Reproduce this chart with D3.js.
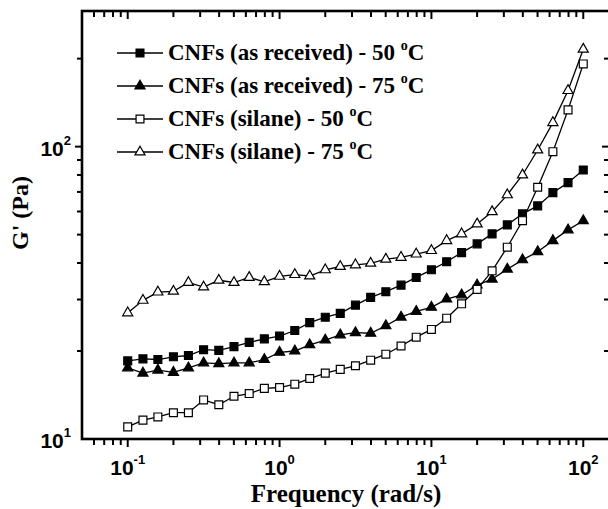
<!DOCTYPE html>
<html>
<head>
<meta charset="utf-8">
<script src="https://cdn.jsdelivr.net/npm/d3@7"></script>
<style>
  body { margin: 0; background: #fff; }
  svg { display: block; }
</style>
</head>
<body>
<div id="chart"></div>
<script>
var w = 608;
var h = 509;

// angular frequency (rad/s)
var freq = [0.1, 0.126, 0.158, 0.2, 0.251, 0.316, 0.398, 0.501, 0.631, 0.794,
  1, 1.26, 1.58, 2, 2.51, 3.16, 3.98, 5.01, 6.31, 7.94,
  10, 12.6, 15.8, 20, 25.1, 31.6, 39.8, 50.1, 63.1, 79.4, 100];

// G' (Pa)
var asRec50 = [18.5, 18.8, 18.7, 19.1, 19.3, 20.2, 20.1, 20.7, 21.4, 22.0, 22.5, 23.5, 25.0, 26.1, 26.9, 28.7,
  30.5, 31.9, 33.6, 35.7, 37.9, 40.4, 43.4, 46.5, 50.3, 54.0, 58.9, 62.7, 69.6, 75.3, 83.2];
var asRec75 = [17.5, 16.8, 17.2, 16.9, 17.5, 18.2, 18.1, 18.2, 18.2, 18.7, 19.8, 20.0, 21.0, 21.8, 22.7, 23.1,
  23.0, 24.4, 26.1, 27.3, 28.2, 30.1, 31.1, 33.6, 35.2, 38.1, 41.0, 43.7, 47.7, 51.9, 55.8];
var silane50 = [11.0, 11.6, 11.9, 12.3, 12.3, 13.6, 13.1, 14.0, 14.3, 14.9, 15.0, 15.4, 16.1, 16.8, 17.3, 17.8,
  18.6, 19.5, 20.8, 22.3, 23.7, 25.9, 29.0, 32.5, 37.6, 45.3, 55.8, 72.6, 96.1, 133.6, 191.8];
var silane75 = [27.0, 29.8, 31.8, 32.0, 34.3, 33.1, 34.9, 34.3, 35.7, 34.5, 36.0, 36.5, 36.1, 37.9, 38.9, 39.4,
  39.9, 41.2, 41.8, 42.9, 44.1, 47.7, 50.3, 54.4, 59.9, 68.4, 80.0, 97.4, 120.8, 155.5, 215.4];

var seriesNames = ['CNFs (as received) - 50 ', 'CNFs (as received) - 75 ', 'CNFs (silane) - 50 ', 'CNFs (silane) - 75 '];
var seriesValues = [asRec50, asRec75, silane50, silane75];
var markerShape = ['square', 'triangle', 'square', 'triangle'];
var markerFilled = [true, true, false, false];

var xTickVals = [0.1, 1, 10, 100];
var xTickExp = ['-1', '0', '1', '2'];
var yTickVals = [10, 100];
var yTickExp = ['1', '2'];

// plot box (note: "top" is reserved on window, so use m-prefixed names)
var mLeft = 82, mRight = 610, mTop = 11, mBottom = 439;

var x = d3.scaleLog().domain([0.05, 150]).range([mLeft, mRight]);
var y = d3.scaleLog().domain([10, 291]).range([mBottom, mTop]);

var svg = d3.select('#chart')
  .append('svg')
  .attr('width', w)
  .attr('height', h);

var sans = '"Liberation Sans", Arial, sans-serif';
var serif = '"Liberation Serif", "Times New Roman", serif';

// minor + major ticks for a log axis
function logTicks(scale) {
  var d = scale.domain();
  var out = [];
  for (var e = -3; e <= 3; e++) {
    for (var m = 1; m <= 9; m++) {
      var v = m * Math.pow(10, e);
      if (v > d[0] * 1.0001 && v < d[1] * 0.9999) out.push({ v: v, major: m === 1 });
    }
  }
  return out;
}

var xt = logTicks(x);
var yt = logTicks(y);

var axes = svg.append('g')
  .attr('stroke', '#000')
  .attr('stroke-width', 2);

// bottom ticks (out) and top ticks (in)
axes.selectAll('.xb').data(xt).enter().append('line')
  .attr('x1', d => x(d.v)).attr('x2', d => x(d.v))
  .attr('y1', mBottom).attr('y2', d => mBottom + (d.major ? 8 : 6));
axes.selectAll('.xt').data(xt).enter().append('line')
  .attr('x1', d => x(d.v)).attr('x2', d => x(d.v))
  .attr('y1', mTop).attr('y2', d => mTop + (d.major ? 8 : 6));

// left ticks (out) and right ticks (in)
axes.selectAll('.yl').data(yt).enter().append('line')
  .attr('y1', d => y(d.v)).attr('y2', d => y(d.v))
  .attr('x1', mLeft).attr('x2', d => mLeft - (d.major ? 7 : 5));
axes.selectAll('.yr').data(yt).enter().append('line')
  .attr('y1', d => y(d.v)).attr('y2', d => y(d.v))
  .attr('x1', mRight).attr('x2', d => mRight - (d.major ? 8 : 6));

// frame
svg.append('rect')
  .attr('x', mLeft).attr('y', mTop)
  .attr('width', mRight - mLeft).attr('height', mBottom - mTop)
  .attr('fill', 'none')
  .attr('stroke', '#000')
  .attr('stroke-width', 2.6);

// tick labels
var xl = svg.selectAll('.xlab').data(xTickVals).enter().append('text')
  .attr('x', d => x(d))
  .attr('y', 475)
  .attr('text-anchor', 'middle')
  .style('font-family', sans)
  .style('font-weight', 'bold')
  .style('font-size', '21px');
xl.append('tspan').text('10');
xl.append('tspan').attr('dy', -11).style('font-size', '13px').text((d, i) => xTickExp[i]);

var yl = svg.selectAll('.ylab').data(yTickVals).enter().append('text')
  .attr('x', 71)
  .attr('y', d => y(d) + 9)
  .attr('text-anchor', 'end')
  .style('font-family', sans)
  .style('font-weight', 'bold')
  .style('font-size', '21px');
yl.append('tspan').text('10');
yl.append('tspan').attr('dy', -11).style('font-size', '13px').text((d, i) => yTickExp[i]);

// axis titles
svg.append('text')
  .attr('x', 346)
  .attr('y', 502)
  .attr('text-anchor', 'middle')
  .style('font-family', serif)
  .style('font-weight', 'bold')
  .style('font-size', '25px')
  .text('Frequency (rad/s)');

svg.append('text')
  .attr('transform', 'translate(28,213) rotate(-90)')
  .attr('text-anchor', 'middle')
  .style('font-family', serif)
  .style('font-weight', 'bold')
  .style('font-size', '24px')
  .text("G' (Pa)");

// markers
var sq = d3.symbol().type(d3.symbolSquare).size(62);
var tri = d3.symbol().type(d3.symbolTriangle).size(44);

function drawMarker(g, shape, filled) {
  return g.append('path')
    .attr('d', shape === 'square' ? sq() : tri())
    .attr('fill', filled ? '#000' : '#fff')
    .attr('stroke', '#000')
    .attr('stroke-width', 1.2);
}

var line = d3.line()
  .x(d => x(d[0]))
  .y(d => y(d[1]));

seriesValues.forEach(function(vals, s) {
  var pts = freq.map((f, i) => [f, vals[i]]);
  var g = svg.append('g');
  g.append('path')
    .attr('d', line(pts))
    .attr('fill', 'none')
    .attr('stroke', '#000')
    .attr('stroke-width', 1.3);
  pts.forEach(function(p) {
    drawMarker(g, markerShape[s], markerFilled[s])
      .attr('transform', 'translate(' + x(p[0]) + ',' + y(p[1]) + ')');
  });
});

// legend
var legRows = [53, 86, 119, 152];
seriesNames.forEach(function(name, s) {
  var ly = legRows[s];
  var g = svg.append('g');
  g.append('line')
    .attr('x1', 117).attr('x2', 163)
    .attr('y1', ly).attr('y2', ly)
    .attr('stroke', '#000')
    .attr('stroke-width', 1.3);
  drawMarker(g, markerShape[s], markerFilled[s])
    .attr('transform', 'translate(140,' + ly + ')');
  var t = g.append('text')
    .attr('x', 168)
    .attr('y', ly + 7)
    .style('font-family', serif)
    .style('font-weight', 'bold')
    .style('font-size', '23px');
  t.append('tspan').text(name);
  t.append('tspan').attr('dy', -10).style('font-size', '14px').text('o');
  t.append('tspan').attr('dy', 10).text('C');
});
</script>
</body>
</html>
